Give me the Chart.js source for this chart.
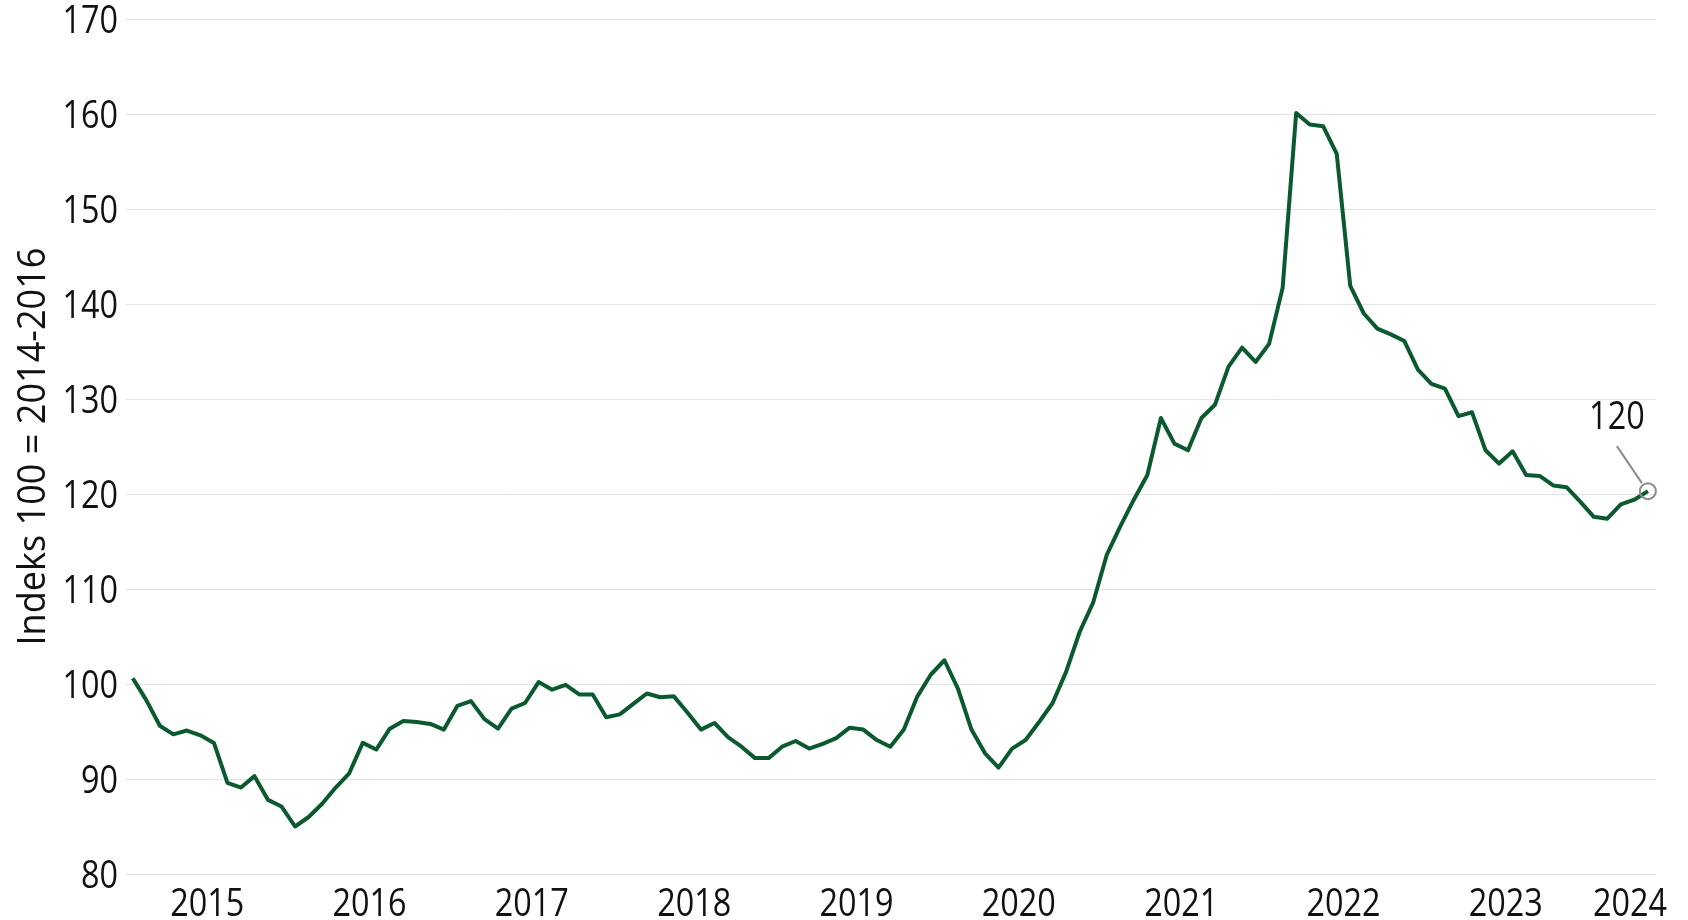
<!DOCTYPE html>
<html>
<head>
<meta charset="utf-8">
<script src="https://cdn.jsdelivr.net/npm/chart.js@4.4.1/dist/chart.umd.min.js"></script>
<style>
  html, body { margin: 0; padding: 0; background: #ffffff; }
  #wrap { width: 1688px; height: 920px; position: relative; }
</style>
</head>
<body>
<div id="wrap"><canvas id="c" width="1688" height="920"></canvas></div>
<script>
// Monthly index values, July 2014 - November 2023
const startYear = 2014;
const startMonth = 7; // July
const indexValues = [
  100.6, 98.3, 95.6, 94.7, 95.1, 94.6, 93.8, 89.6, 89.1, 90.3, 87.8, 87.1,
  85.0, 86.0, 87.4, 89.1, 90.6, 93.8, 93.1, 95.3, 96.1, 96.0, 95.8, 95.2,
  97.7, 98.2, 96.3, 95.3, 97.4, 98.0, 100.2, 99.4, 99.9, 98.9, 98.9, 96.5,
  96.8, 97.9, 99.0, 98.6, 98.7, 97.0, 95.2, 95.9, 94.4, 93.4, 92.2, 92.2,
  93.4, 94.0, 93.2, 93.7, 94.3, 95.4, 95.2, 94.1, 93.4, 95.2, 98.7, 101.0,
  102.5, 99.5, 95.2, 92.7, 91.2, 93.2, 94.1, 96.0, 98.0, 101.3, 105.5, 108.6,
  113.6, 116.6, 119.4, 122.0, 128.0, 125.3, 124.6, 128.0, 129.4, 133.4, 135.4, 133.9,
  135.8, 141.7, 160.1, 158.9, 158.7, 155.8, 141.9, 139.0, 137.4, 136.8, 136.1, 133.1,
  131.6, 131.1, 128.2, 128.6, 124.6, 123.2, 124.5, 122.0, 121.9, 120.9, 120.7, 119.2,
  117.6, 117.4, 118.9, 119.4, 120.3
];
const yearLabels = ["2015", "2016", "2017", "2018", "2019", "2020", "2021", "2022", "2023", "2024"];
const yTickValues = [80, 90, 100, 110, 120, 130, 140, 150, 160, 170];
const yTitle = "Indeks 100 = 2014-2016";

// Month categories (mid-month positions in fractional years)
const monthCategories = indexValues.map((_, i) => {
  const m = startMonth - 1 + i;
  return { year: startYear + Math.floor(m / 12), month: (m % 12) + 1 };
});
const points = monthCategories.map((c, i) => ({ x: c.year + (c.month - 0.5) / 12, y: indexValues[i] }));

const FONT_FAMILY = "'Open Sans', 'Noto Sans', sans-serif";
const FONT = "39px " + FONT_FAMILY;
const SX = 0.83;            // horizontal condensing of the labels
const HALF_DIGIT = 14;      // half of digit height (px)
const TEXT = '#111111';
const X_MIN = 2014.5, X_MAX = 2023.925;

function drawText(ctx, text, x, y, align, sx) {
  ctx.save();
  ctx.translate(x, y);
  ctx.scale(sx, 1);
  ctx.font = FONT;
  ctx.fillStyle = TEXT;
  ctx.textAlign = align;
  ctx.textBaseline = 'alphabetic';
  ctx.fillText(text, 0, 0);
  ctx.restore();
}

const labelsPlugin = {
  id: 'labels',
  afterDraw(chart) {
    const ctx = chart.ctx;
    const a = chart.chartArea;
    const xs = chart.scales.x, ys = chart.scales.y;
    // y tick labels
    yTickValues.forEach(v => {
      drawText(ctx, String(v), a.left - 8, ys.getPixelForValue(v) + HALF_DIGIT, 'right', SX);
    });
    // x tick labels (last one kept inside the plot)
    yearLabels.forEach(l => {
      const px = xs.getPixelForValue(Math.min(Number(l), X_MAX - 0.16));
      drawText(ctx, l, px, a.bottom + 42, 'center', SX);
    });
    // rotated y title
    ctx.save();
    ctx.font = FONT;
    const w = ctx.measureText(yTitle).width;
    const s = 398 / w;
    ctx.translate(45, (a.top + a.bottom) / 2);
    ctx.rotate(-Math.PI / 2);
    ctx.scale(s, 1);
    ctx.fillStyle = TEXT;
    ctx.textAlign = 'center';
    ctx.textBaseline = 'alphabetic';
    ctx.fillText(yTitle, 0, 0);
    ctx.restore();
  }
};

const lastLabelPlugin = {
  id: 'lastLabel',
  afterDatasetsDraw(chart) {
    const meta = chart.getDatasetMeta(0);
    const pt = meta.data[meta.data.length - 1];
    const v = indexValues[indexValues.length - 1];
    const ctx = chart.ctx;
    ctx.save();
    ctx.strokeStyle = '#8c8c8c';
    ctx.lineWidth = 2;
    ctx.beginPath();
    ctx.arc(pt.x, pt.y, 8, 0, Math.PI * 2);
    ctx.stroke();
    ctx.beginPath();
    ctx.moveTo(pt.x - 31, pt.y - 45);
    ctx.lineTo(pt.x - 6, pt.y - 8);
    ctx.stroke();
    ctx.restore();
    drawText(ctx, String(Math.round(v)), pt.x - 31, pt.y - 62, 'center', SX);
  }
};

new Chart(document.getElementById('c'), {
  type: 'line',
  data: {
    datasets: [{
      data: points,
      borderColor: '#0b5a2f',
      borderWidth: 4,
      pointRadius: 0,
      tension: 0,
      borderJoinStyle: 'round',
      clip: false
    }]
  },
  options: {
    responsive: false,
    animation: false,
    devicePixelRatio: 1,
    layout: { padding: { top: 19, right: 32, left: 0, bottom: 0 } },
    plugins: { legend: { display: false }, tooltip: { enabled: false } },
    scales: {
      x: {
        type: 'linear',
        min: X_MIN,
        max: X_MAX,
        grid: { display: false, drawTicks: false },
        border: { display: false },
        afterBuildTicks(scale) {
          scale.ticks = yearLabels.map(l => ({ value: Math.min(Number(l), X_MAX - 0.16) }));
        },
        afterFit(scale) { scale.height = 46; scale.paddingLeft = 0; scale.paddingRight = 0; },
        ticks: { display: false }
      },
      y: {
        min: 80,
        max: 170,
        afterBuildTicks(scale) { scale.ticks = yTickValues.map(v => ({ value: v })); },
        afterFit(scale) { scale.width = 126; scale.paddingTop = 0; scale.paddingBottom = 0; },
        grid: { color: '#e3e3e3', lineWidth: 1, drawTicks: false },
        border: { display: false },
        ticks: { display: false }
      }
    }
  },
  plugins: [labelsPlugin, lastLabelPlugin]
});
</script>
</body>
</html>
